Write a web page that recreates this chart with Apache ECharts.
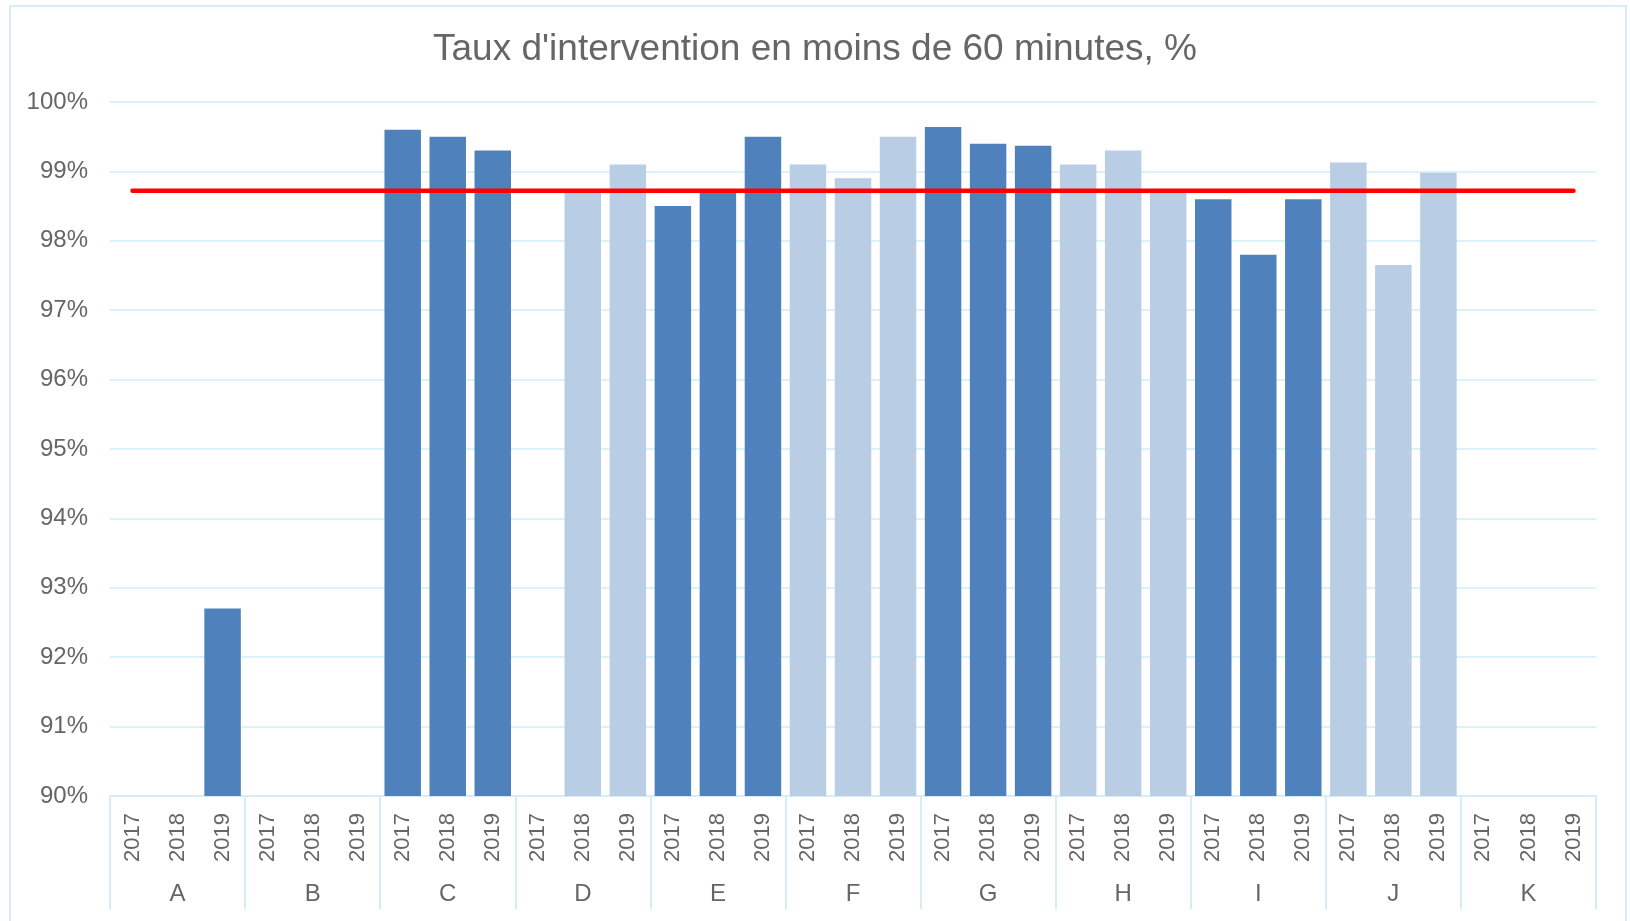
<!DOCTYPE html>
<html>
<head>
<meta charset="utf-8">
<script src="https://cdn.jsdelivr.net/npm/echarts@6/dist/echarts.min.js"></script>
<style>
  html, body { margin: 0; padding: 0; background: #fff; }
  #chart { width: 1630px; height: 921px; }
</style>
</head>
<body>
<div id="chart"></div>
<script>
// groupes et années
var groups = ['A', 'B', 'C', 'D', 'E', 'F', 'G', 'H', 'I', 'J', 'K'];
var years = ['2017', '2018', '2019'];
// teinte par groupe (foncé / clair)
var groupShade = ['dark', 'dark', 'dark', 'light', 'dark', 'light', 'dark', 'light', 'dark', 'light', 'dark'];
// taux par groupe, 2017 / 2018 / 2019
var rates = [
  [null, null, 92.7],
  [null, null, null],
  [99.6, 99.5, 99.3],
  [null, 98.7, 99.1],
  [98.5, 98.7, 99.5],
  [99.1, 98.9, 99.5],
  [99.64, 99.4, 99.37],
  [99.1, 99.3, 98.7],
  [98.6, 97.8, 98.6],
  [99.13, 97.65, 98.98],
  [null, null, null]
];
var target = 98.72;
var yTicks = [90, 100, 1];

var shadeColor = { dark: '#4f81bd', light: '#b9cde5' };
var textGray = '#666666';

var cats = [], barData = [], lineData = [];
groups.forEach(function (g, gi) {
  years.forEach(function (y, yi) {
    cats.push(y);
    var v = rates[gi][yi];
    barData.push({ value: v, itemStyle: { color: shadeColor[groupShade[gi]] } });
    lineData.push(target);
  });
});

var chart = echarts.init(document.getElementById('chart'));
chart.setOption({
  backgroundColor: '#fff',
  animation: false,
  title: {
    text: "Taux d'intervention en moins de 60 minutes, %",
    left: 'center',
    top: 26,
    textStyle: { fontFamily: 'Liberation Sans', fontSize: 37, fontWeight: 'normal', color: textGray }
  },
  graphic: [{
    type: 'rect',
    shape: { x: 10, y: 6, width: 1616, height: 940 },
    style: { fill: null, stroke: '#d9eff8', lineWidth: 2 },
    silent: true
  }],
  grid: { left: 110, right: 34, top: 102, bottom: 125 },
  xAxis: [{
    type: 'category',
    data: cats,
    axisLine: { lineStyle: { color: '#d5edf7', width: 2 } },
    axisTick: { show: false },
    axisLabel: {
      rotate: 90, margin: 17, interval: 0,
      fontFamily: 'Liberation Sans', fontSize: 22, color: textGray
    }
  }, {
    type: 'category',
    data: groups,
    position: 'bottom',
    axisLine: { show: false },
    axisTick: { show: true, length: 113, lineStyle: { color: '#d5edf7', width: 2 } },
    axisLabel: {
      margin: 86, interval: 0,
      fontFamily: 'Liberation Sans', fontSize: 24, color: textGray
    }
  }],
  yAxis: {
    type: 'value',
    min: yTicks[0], max: yTicks[1], interval: yTicks[2],
    axisLine: { show: false },
    axisTick: { show: false },
    splitLine: { lineStyle: { color: '#dcf1fa', width: 2 } },
    axisLabel: {
      formatter: '{value}%', margin: 22,
      fontFamily: 'Liberation Sans', fontSize: 24, color: textGray
    }
  },
  series: [{
    type: 'bar',
    xAxisIndex: 0,
    data: barData,
    barCategoryGap: '19%',
    z: 2
  }, {
    type: 'line',
    xAxisIndex: 0,
    data: lineData,
    symbol: 'none',
    lineStyle: { color: '#ff0000', width: 4.5, cap: 'round' },
    z: 5
  }]
});
</script>
</body>
</html>
